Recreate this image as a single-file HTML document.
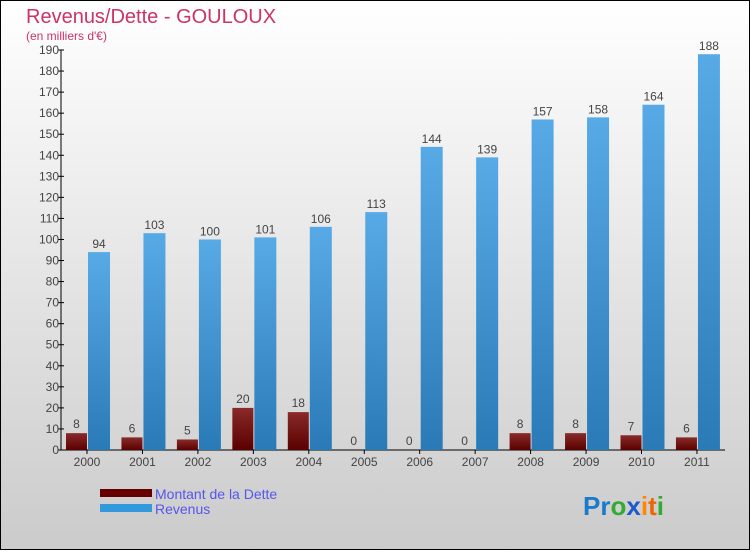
<!DOCTYPE html>
<html><head><meta charset="utf-8">
<style>
html,body{margin:0;padding:0;}
body{width:750px;height:550px;overflow:hidden;font-family:"Liberation Sans",sans-serif;}
</style></head>
<body>
<svg id="chart" width="750" height="550" xmlns="http://www.w3.org/2000/svg">
<defs>
<linearGradient id="bg" x1="0" y1="0" x2="0" y2="1">
<stop offset="0" stop-color="#ffffff"/><stop offset="1" stop-color="#cbcbcb"/></linearGradient>
<linearGradient id="gd" x1="0" y1="0" x2="0" y2="1">
<stop offset="0" stop-color="#8a2a2a"/><stop offset="1" stop-color="#5a0000"/></linearGradient>
<linearGradient id="gr" x1="0" y1="0" x2="0" y2="1">
<stop offset="0" stop-color="#58aae6"/><stop offset="1" stop-color="#2a7ab8"/></linearGradient>
</defs>
<rect x="0.5" y="0.5" width="749" height="549" fill="url(#bg)" stroke="#000"/>
<text x="26" y="23" font-size="20" fill="#cc3366">Revenus/Dette - GOULOUX</text>
<text x="26" y="40" font-size="12" fill="#cc3366">(en milliers d'€)</text>
<g id="axes"></g>
<g id="bars"></g>
<g>
<rect x="100" y="489" width="52" height="8" fill="#660000"/>
<text x="155" y="499" font-size="14" fill="#5555ee">Montant de la Dette</text>
<rect x="100" y="504" width="52" height="8" fill="#3399dd"/>
<text x="155" y="514" font-size="14" fill="#5555ee">Revenus</text>
</g>
<text x="583" y="515" font-size="26" font-weight="bold"><tspan fill="#1a7acc">Pr</tspan><tspan fill="#33aa33">o</tspan><tspan fill="#1a5acc">x</tspan><tspan fill="#ff8800">i</tspan><tspan fill="#ee6600">t</tspan><tspan fill="#33aa33">i</tspan></text>
</svg>
<script>
const categories=["2000","2001","2002","2003","2004","2005","2006","2007","2008","2009","2010","2011"];
const detteValues=[8,6,5,20,18,0,0,0,8,8,7,6];
const revenusValues=[94,103,100,101,106,113,144,139,157,158,164,188];
const yTicks=[0,10,20,30,40,50,60,70,80,90,100,110,120,130,140,150,160,170,180,190];
const NS="http://www.w3.org/2000/svg";
const x0=61,x1=726.4,y0=450,yTop=50,yMax=190;
const step=(x1-x0)/categories.length;
function y(v){return y0-(v/yMax)*(y0-yTop);}
function gx(i){return x0+step*i;}
function mk(tag,attrs,parent,txt){const e=document.createElementNS(NS,tag);for(const k in attrs)e.setAttribute(k,attrs[k]);if(txt!==undefined)e.textContent=txt;parent.appendChild(e);return e;}
const axes=document.getElementById('axes'),bars=document.getElementById('bars');
let e=mk('line',{x1:x0,y1:yTop,x2:x0,y2:y0,stroke:'#000'},axes);


e=mk('line',{x1:x0,y1:y0,x2:725,y2:y0,stroke:'#000'},axes);


yTicks.forEach(t=>{
  const l=mk('line',{x1:x0-3,x2:x0+3,y1:y(t),y2:y(t),stroke:'#000'},axes);
  
  
  const tx=mk('text',{x:x0-2,y:y(t)+4,'font-size':12,fill:'#444','text-anchor':'end'},axes,String(t));
  
  
});
categories.forEach((c,i)=>{
  const cx=gx(i)+26;
  const tk=mk('line',{x1:cx,x2:cx,y1:y0,y2:y0+4,stroke:'#000'},axes);
  
  
  const lb=mk('text',{x:cx,y:y0+16,'font-size':12,fill:'#444','text-anchor':'middle'},axes,c);
  
  
  const d=detteValues[i],r=revenusValues[i];
  const bd=mk('rect',{x:cx-21,y:y(d),width:21,height:y0-y(d),fill:'url(#gd)'},bars);
  
  
  const vd=mk('text',{x:cx-10.5,y:y(d)-5,'font-size':12,fill:'#444','text-anchor':'middle'},bars,String(d));
  
  
  const br=mk('rect',{x:cx+1,y:y(r),width:22,height:y0-y(r),fill:'url(#gr)'},bars);
  
  
  const vr=mk('text',{x:cx+12,y:y(r)-4,'font-size':12,fill:'#444','text-anchor':'middle'},bars,String(r));
  
  
});
</script>
</body></html>
